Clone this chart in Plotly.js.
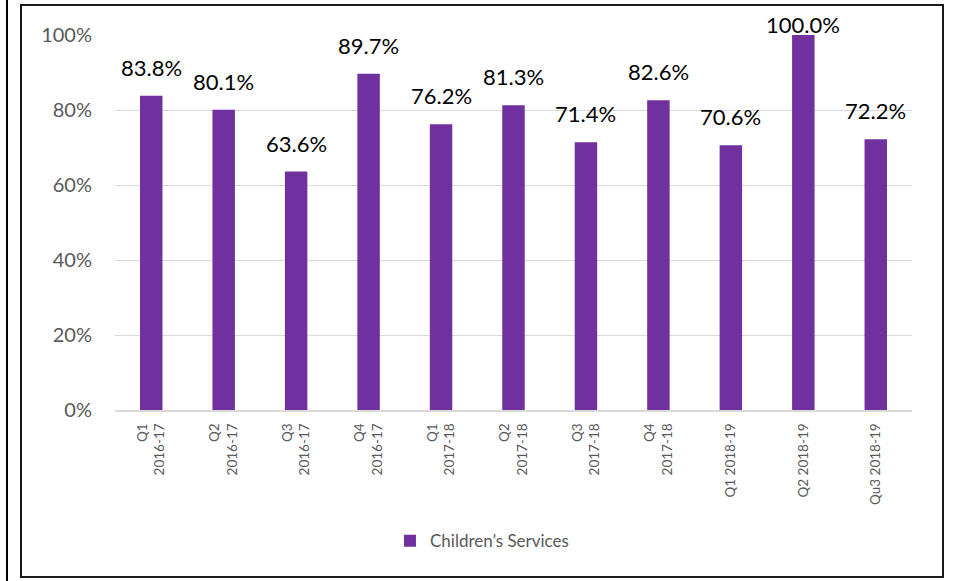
<!DOCTYPE html>
<html>
<head>
<meta charset="utf-8">
<script src="https://cdn.plot.ly/plotly-3.0.1.min.js"></script>
<style>
  html, body { margin: 0; padding: 0; background: #fff; }
  #wrap { position: relative; width: 953px; height: 581px; overflow: hidden; }
  #chart { position: absolute; left: 0; top: 0; width: 953px; height: 581px; }
  .line { position: absolute; pointer-events: none; }
</style>
</head>
<body>
<div id="wrap">
  <div id="chart"></div>
  <div class="line" style="left:6px;top:0;width:2px;height:581px;background:#000;"></div>
  <div class="line" style="left:20px;top:4px;width:920px;height:570px;border:2px solid #1a1a1a;"></div>
</div>
<script>
const categories = ["Q1<br>2016-17", "Q2<br>2016-17", "Q3<br>2016-17", "Q4<br>2016-17",
                    "Q1<br>2017-18", "Q2<br>2017-18", "Q3<br>2017-18", "Q4<br>2017-18",
                    "Q1 2018-19", "Q2 2018-19", "Qu3 2018-19"];
const values = [0.838, 0.801, 0.636, 0.897, 0.762, 0.813, 0.714, 0.826, 0.706, 1.000, 0.722];
const seriesName = "Children\u2019s Services";
const yTickVals = [0, 0.2, 0.4, 0.6, 0.8, 1.0];
const yTickText = ["0%", "20%", "40%", "60%", "80%", "100%"];

const FONT = "Lato, 'Open Sans', sans-serif";

const trace = {
  type: "bar",
  x: categories,
  y: values,
  name: seriesName,
  marker: { color: "#7030A0" },
  showlegend: true,
  hoverinfo: "skip"
};

const annotations = categories.map((c, i) => ({
  x: c, y: values[i], xref: "x", yref: "y",
  text: (values[i] * 100).toFixed(1) + "%",
  showarrow: false,
  yanchor: "bottom",
  yshift: values[i] >= 0.999 ? -5 : 13,
  font: { family: FONT, size: 22, color: "#000" }
}));

const layout = {
  width: 953, height: 581,
  margin: { l: 115, r: 41, t: 35, b: 171 },
  paper_bgcolor: "#fff", plot_bgcolor: "#fff",
  bargap: 0.69,
  font: { family: FONT, color: "#595959" },
  xaxis: {
    type: "category",
    tickangle: -90,
    tickfont: { family: FONT, size: 13.5, color: "#595959" },
    showline: true, linecolor: "#d9d9d9", linewidth: 2,
    ticks: "", showgrid: false,
    ticklabelstandoff: 6,
    fixedrange: true
  },
  yaxis: {
    range: [0, 1],
    tickvals: yTickVals, ticktext: yTickText,
    tickfont: { family: FONT, size: 20, color: "#595959" },
    showgrid: true, gridcolor: "#d9d9d9", gridwidth: 1,
    zeroline: false, showline: false, ticks: "",
    ticklabelstandoff: 22,
    fixedrange: true
  },
  legend: {
    orientation: "h", x: 0.345, xanchor: "left", y: -0.35, yanchor: "middle",
    font: { family: FONT, size: 17, color: "#595959" }
  },
  annotations: annotations
};

Plotly.newPlot("chart", [trace], layout, { displayModeBar: false, staticPlot: true });
</script>
</body>
</html>
